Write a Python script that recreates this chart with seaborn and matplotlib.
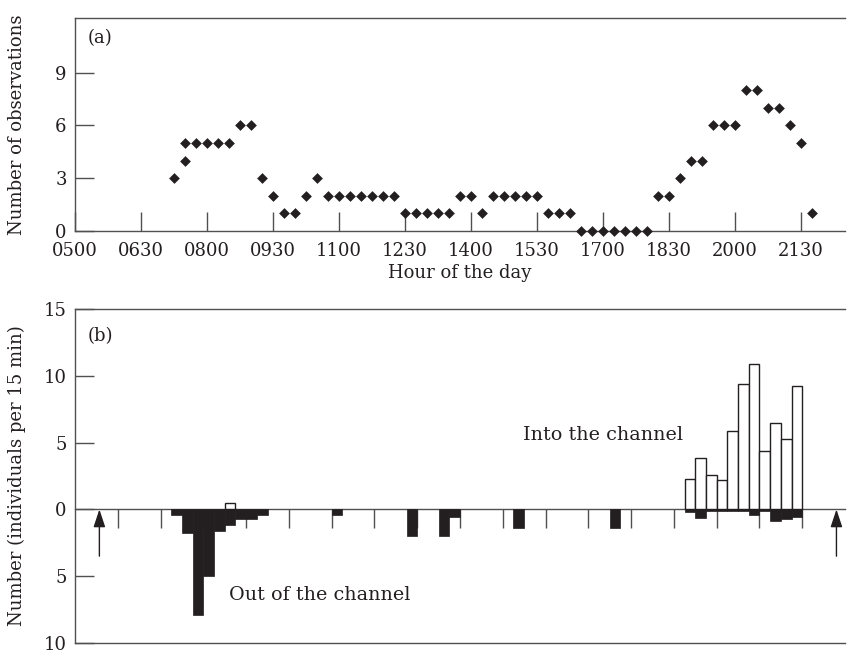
import numpy as np
import pandas as pd
import matplotlib
matplotlib.use("Agg")
import matplotlib.pyplot as plt
import seaborn as sns

sns.set_style("ticks")
plt.rcParams["font.family"] = ["DejaVu Serif"]
plt.rcParams["mathtext.fontset"] = "dejavuserif"

# ---------------- data ----------------
# (a) number of observations per 15-min interval (time in decimal hours)
obs_time = [7.25, 7.5, 7.5, 7.75, 8.0, 8.25, 8.5, 8.75, 9.0,
            9.25, 9.5, 9.75, 10.0, 10.25, 10.5,
            10.75, 11.0, 11.25, 11.5, 11.75, 12.0, 12.25,
            12.5, 12.75, 13.0, 13.25, 13.5,
            13.75, 14.0, 14.25,
            14.5, 14.75, 15.0, 15.25, 15.5,
            15.75, 16.0, 16.25,
            16.5, 16.75, 17.0, 17.25, 17.5, 17.75, 18.0,
            18.25, 18.5, 18.75, 19.0, 19.25,
            19.5, 19.75, 20.0, 20.25, 20.5, 20.75, 21.0, 21.25, 21.5, 21.75]
obs_count = [3, 4, 5, 5, 5, 5, 5, 6, 6,
             3, 2, 1, 1, 2, 3,
             2, 2, 2, 2, 2, 2, 2,
             1, 1, 1, 1, 1,
             2, 2, 1,
             2, 2, 2, 2, 2,
             1, 1, 1,
             0, 0, 0, 0, 0, 0, 0,
             2, 2, 3, 4, 4,
             6, 6, 6, 8, 8, 7, 7, 6, 5, 1]

# (b) individuals per 15 min (slot start, decimal hours)
out_start = [7.25, 7.5, 7.75, 8.0, 8.25, 8.5, 8.75, 9.0, 9.25,
             11.0, 12.75, 13.5, 13.75, 15.25, 17.5,
             19.25, 19.5, 19.75, 20.0, 20.25, 20.5, 20.75, 21.0, 21.25, 21.5, 21.75]
out_count = [0.4, 1.8, 7.9, 5.0, 1.6, 1.2, 0.75, 0.7, 0.45,
             0.45, 2.0, 2.0, 0.55, 1.4, 1.4,
             0.2, 0.65, 0.1, 0.1, 0.1, 0.1, 0.4, 0.1, 0.9, 0.7, 0.55]
in_start = [8.5, 19.25, 19.5, 19.75, 20.0, 20.25, 20.5, 20.75, 21.0, 21.25, 21.5, 21.75]
in_count = [0.5, 2.3, 3.85, 2.6, 2.2, 5.9, 9.4, 10.9, 4.4, 6.45, 5.3, 9.2]

sun_times = [5.57, 22.8]   # arrows (sunrise / sunset)

top_ticks = [5.0, 6.5, 8.0, 9.5, 11.0, 12.5, 14.0, 15.5, 17.0, 18.5, 20.0, 21.5]
top_tick_labels = ["0500", "0630", "0800", "0930", "1100", "1230",
                   "1400", "1530", "1700", "1830", "2000", "2130"]
bottom_ticks = list(range(6, 23))
yticks_a = [0, 3, 6, 9]
yticks_b = [15, 10, 5, 0, -5, -10]

# ---------------- figure ----------------
W, H = 847, 653
fig = plt.figure(figsize=(W / 100, H / 100), dpi=100)
L, R = 75, 845
ax1 = fig.add_axes([L / W, 1 - 231 / H, (R - L) / W, (231 - 18) / H])
ax2 = fig.add_axes([L / W, 1 - 643 / H, (R - L) / W, (643 - 309) / H])

line_c = "#505050"
ink = "#231f20"
fs = 13

# ---- panel (a)
df_a = pd.DataFrame({"time": obs_time, "count": obs_count})
sns.scatterplot(data=df_a, x="time", y="count", ax=ax1, marker="D",
                s=30, color=ink, linewidth=0, zorder=3, clip_on=False)
ax1.set_xlim(5.0, 22.5)
ax1.set_ylim(0, 12.1)
ax1.set_xticks(top_ticks)
ax1.set_xticklabels(top_tick_labels)
ax1.set_yticks(yticks_a)
ax1.set_yticklabels([str(v) for v in yticks_a])
ax1.tick_params(axis="both", direction="in", length=14, width=1.0,
                color=line_c, labelsize=fs, labelcolor=ink)
ax1.tick_params(axis="x", pad=8)
ax1.tick_params(axis="y", pad=6)
ax1.set_xlabel("Hour of the day", fontsize=fs, color=ink, labelpad=3)
ax1.set_ylabel("Number of observations", fontsize=fs, color=ink)
ax1.yaxis.set_label_coords((26 - L) / (R - L), 0.5)
for s in ["top", "left", "bottom"]:
    ax1.spines[s].set_color(line_c)
    ax1.spines[s].set_linewidth(1.0)
ax1.spines["right"].set_visible(False)
ax1.text(0.017, 0.88, "(a)", transform=ax1.transAxes, fontsize=fs, color=ink)

# ---- panel (b)
slot = 0.25
df_out = pd.DataFrame({"t": np.array(out_start) + slot / 2, "n": -np.array(out_count)})
df_in = pd.DataFrame({"t": np.array(in_start) + slot / 2, "n": np.array(in_count)})
sns.barplot(data=df_out, x="t", y="n", ax=ax2, native_scale=True, width=1.0,
            color=ink, edgecolor=ink, linewidth=0.5, errorbar=None,
            saturation=1, zorder=2)
sns.barplot(data=df_in, x="t", y="n", ax=ax2, native_scale=True, width=1.0,
            color="white", edgecolor=ink, linewidth=1.0, errorbar=None,
            saturation=1, zorder=2)
ax2.set_xlim(5.0, 23.0)
ymin, ymax = -10, 15
ax2.set_ylim(ymin, ymax)
ax2.set_xticks([])
ax2.set_yticks(yticks_b)
ax2.set_yticklabels([str(abs(v)) for v in yticks_b])
ax2.tick_params(axis="y", direction="in", length=14, width=1.0,
                color=line_c, labelsize=fs, labelcolor=ink, pad=6)
ax2.set_xlabel("")
ax2.set_ylabel("Number (individuals per 15 min)", fontsize=fs, color=ink)
ax2.yaxis.set_label_coords((26 - L) / (R - L), 0.5)
for s in ["top", "left", "bottom"]:
    ax2.spines[s].set_color(line_c)
    ax2.spines[s].set_linewidth(1.0)
ax2.spines["right"].set_visible(False)

# zero line with downward hourly ticks
sec = ax2.secondary_xaxis((0 - ymin) / (ymax - ymin))
sec.set_xticks(bottom_ticks)
sec.tick_params(axis="x", direction="out", length=14, width=1.0,
                color=line_c, labelbottom=False, labeltop=False)
for s in sec.spines.values():
    s.set_color(line_c)
    s.set_linewidth(1.0)

for t in sun_times:
    ax2.annotate("", xy=(t, 0), xytext=(t, -3.5),
                 arrowprops=dict(arrowstyle="-|>,head_length=0.6,head_width=0.2",
                                 color=ink, lw=1.0, mutation_scale=18,
                                 shrinkA=0, shrinkB=0))

ax2.text(0.017, 0.905, "(b)", transform=ax2.transAxes, fontsize=fs, color=ink)
ax2.text(15.47, 5.6, "Into the channel", fontsize=13.8, color=ink, va="center")
ax2.text(8.59, -6.4, "Out of the channel", fontsize=13.8, color=ink, va="center")

fig.savefig("out.png", dpi=100)
